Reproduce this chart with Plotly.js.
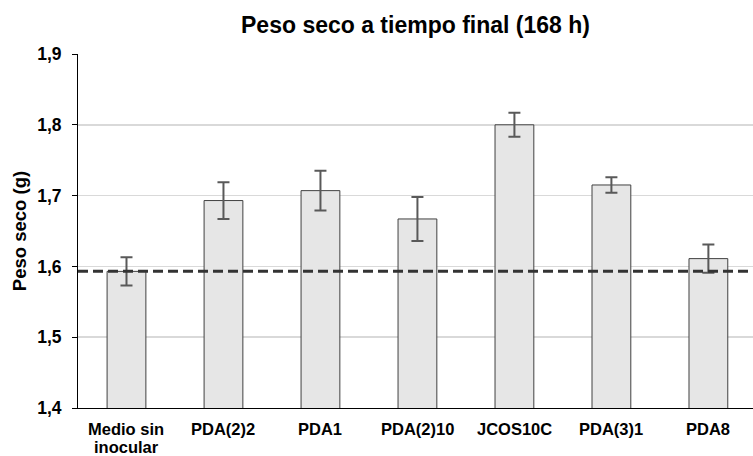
<!DOCTYPE html>
<html>
<head>
<meta charset="utf-8">
<script src="https://cdn.plot.ly/plotly-3.0.1.min.js"></script>
<style>
  html, body { margin: 0; padding: 0; background: #fff; }
  #chart { width: 753px; height: 456px; }
</style>
</head>
<body>
<div id="chart"></div>
<script>
// Dry weight at final time, per treatment
const categories = ['Medio sin inocular', 'PDA(2)2', 'PDA1', 'PDA(2)10', 'JCOS10C', 'PDA(3)1', 'PDA8'];
// Category labels as drawn under the axis, one entry per line
const labelLines = [['Medio sin', 'inocular'], ['PDA(2)2'], ['PDA1'], ['PDA(2)10'], ['JCOS10C'], ['PDA(3)1'], ['PDA8']];
const pesoSeco = [1.593, 1.693, 1.707, 1.667, 1.800, 1.715, 1.611];
const errores = [0.020, 0.026, 0.028, 0.031, 0.017, 0.011, 0.020];
const yTicks = [1.4, 1.5, 1.6, 1.7, 1.8, 1.9];
const yTickText = ['1,4', '1,5', '1,6', '1,7', '1,8', '1,9'];
// Reference level: uninoculated medium
const referencia = pesoSeco[0];

const font = 'Liberation Sans, Arial, sans-serif';
const tickSize = 17.5;
const catSize = 16.5;
const lineStep = 18.5;

const bars = {
  type: 'bar',
  x: categories,
  y: pesoSeco,
  marker: { color: '#e6e6e6', line: { color: '#404040', width: 1 } },
  error_y: { type: 'data', array: errores, visible: true, color: '#595959', thickness: 2, width: 6 },
  hoverinfo: 'x+y'
};

// Category labels under the axis, one box per line
const annotations = [];
categories.forEach((cat, i) => {
  labelLines[i].forEach((line, j) => {
    annotations.push({
      xref: 'x', yref: 'paper', x: cat, y: 0,
      xanchor: 'center', yanchor: 'top',
      yshift: -10.5 - j * lineStep,
      borderpad: 0,
      showarrow: false,
      text: '<b>' + line + '</b>',
      font: { family: font, size: catSize, color: '#000' }
    });
  });
});

const layout = {
  width: 753,
  height: 456,
  margin: { l: 78, r: 0, t: 54, b: 48 },
  paper_bgcolor: '#ffffff',
  plot_bgcolor: '#ffffff',
  showlegend: false,
  bargap: 0.6,
  title: {
    text: '<b>Peso seco a tiempo final (168 h)</b>',
    font: { family: font, size: 23, color: '#000' },
    x: 0.5, xref: 'paper', xanchor: 'center',
    y: 0.945, yanchor: 'middle'
  },
  xaxis: {
    type: 'category',
    range: [-0.5, 6.46],
    showline: true, linecolor: '#000', linewidth: 1,
    ticks: '', showgrid: false, showticklabels: false
  },
  yaxis: {
    range: [1.4, 1.9],
    tickvals: yTicks, ticktext: yTickText,
    showline: true, linecolor: '#000', linewidth: 1,
    ticks: 'outside', ticklen: 5, tickcolor: '#000',
    ticklabelstandoff: 7,
    showgrid: true, gridcolor: '#d9d9d9', gridwidth: 1.5,
    zeroline: false,
    tickfont: { family: font, size: tickSize, color: '#000', weight: 'bold' },
    title: { text: '<b>Peso seco (g)</b>', font: { family: font, size: 18.5, color: '#000' }, standoff: 5 }
  },
  annotations: annotations,
  shapes: [{
    type: 'line', xref: 'paper', yref: 'y',
    x0: 0, x1: 1, y0: referencia, y1: referencia,
    line: { color: '#333333', width: 3, dash: '10px,5px' },
    layer: 'above'
  }]
};

Plotly.newPlot('chart', [bars], layout, { displayModeBar: false, staticPlot: true });
</script>
</body>
</html>
